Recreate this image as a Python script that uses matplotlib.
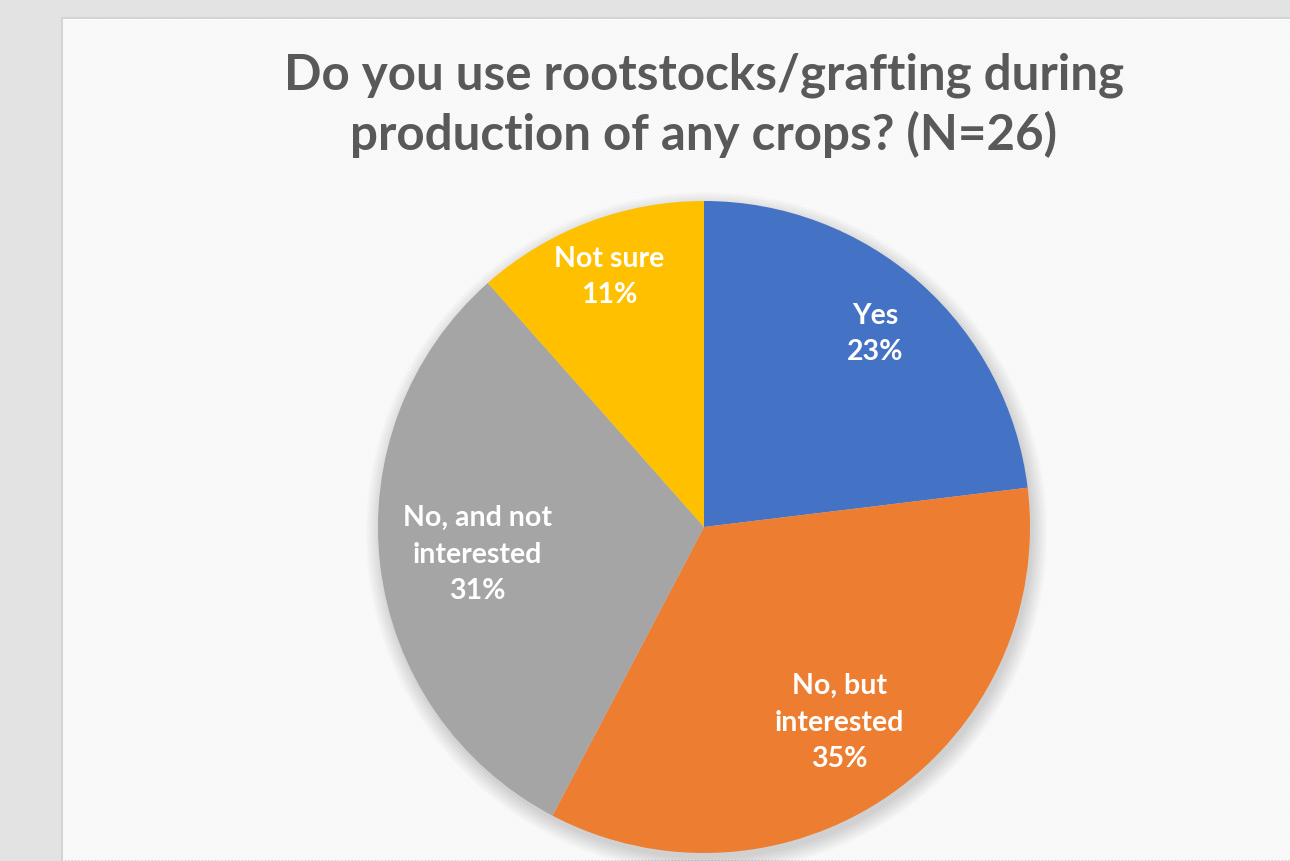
import matplotlib.pyplot as plt
from matplotlib.patches import Rectangle, Circle
import numpy as np

categories = ['Yes', 'No, but\ninterested', 'No, and not\ninterested', 'Not sure']
counts = [6, 9, 8, 3]
pct_labels = ['23%', '35%', '31%', '11%']
colors = ['#4472C4', '#ED7D31', '#A5A5A5', '#FFC000']
title = 'Do you use rootstocks/grafting during\nproduction of any crops? (N=26)'

W, H = 1290, 861
plt.rcParams['font.family'] = ['Lato', 'DejaVu Sans']
plt.rcParams['hatch.linewidth'] = 1.0

fig = plt.figure(figsize=(W / 100, H / 100), dpi=100, facecolor='#e3e3e3')

# white striped panel
panel = Rectangle((62 / W, 0), 1, 1 - 18 / H, transform=fig.transFigure,
                  facecolor='white', edgecolor='#d4d4d4', linewidth=1.5, zorder=-2)
fig.patches.append(panel)
stripes = Rectangle((63 / W, 0), 1, 1 - 20 / H, transform=fig.transFigure,
                    facecolor='none', edgecolor='#f5f5f5', linewidth=0,
                    hatch='\\' * 10, zorder=-1)
fig.patches.append(stripes)

fig.text(704 / W, 1 - 105 / H, title, ha='center', va='center', fontsize=35.5,
         fontweight='bold', color='#595959', linespacing=1.32)

# pie axes
cx, cy, r = 704, 527, 326
ax = fig.add_axes([(cx - r) / W, (H - cy - r) / H, 2 * r / W, 2 * r / H])
ax.set_zorder(1)

# soft shadow
for k in range(10):
    ax.add_patch(Circle((0.008, -0.018), 1.0 + 0.005 * k, color='black',
                        alpha=0.016, linewidth=0, zorder=0, clip_on=False))

wedges, _ = ax.pie(counts, colors=colors, startangle=90, counterclock=False,
                   wedgeprops=dict(linewidth=0))
for w in wedges:
    w.set_clip_on(False)
ax.set_xlim(-1, 1)
ax.set_ylim(-1, 1)
ax.set_aspect('equal')

label_r = [0.79, 0.73, 0.70, 0.82]
for w, cat, pct, lr in zip(wedges, categories, pct_labels, label_r):
    ang = np.deg2rad((w.theta1 + w.theta2) / 2)
    ax.text(lr * np.cos(ang), lr * np.sin(ang), cat + '\n' + pct,
            ha='center', va='center', color='white', fontsize=20.5,
            fontweight='bold', linespacing=1.5)

fig.savefig('out.png', dpi=100, facecolor=fig.get_facecolor())
